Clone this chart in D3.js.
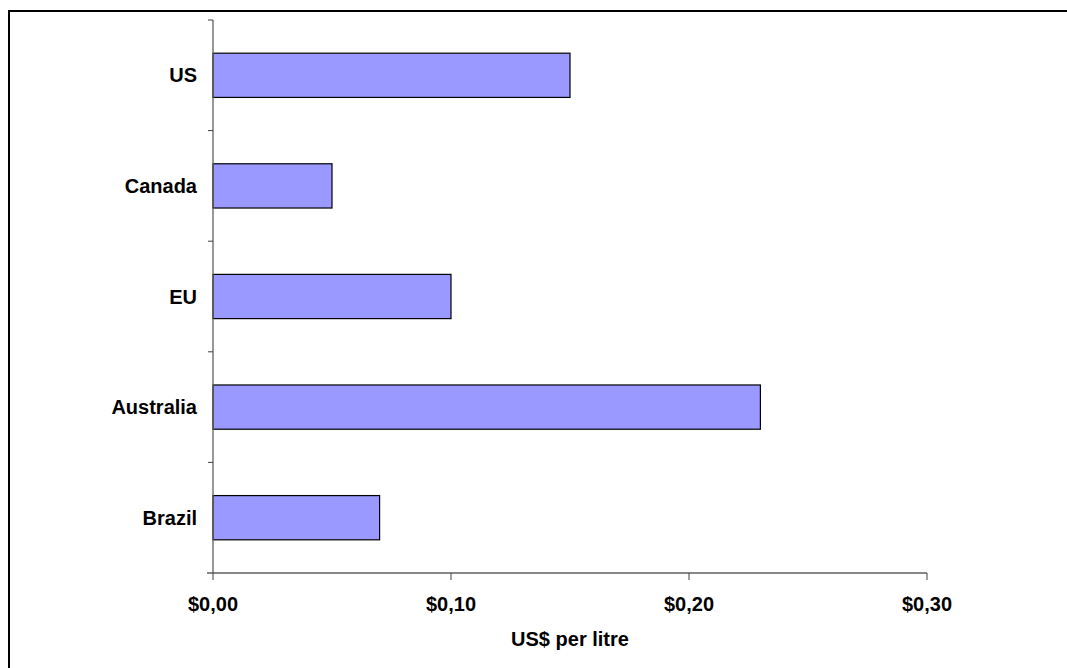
<!DOCTYPE html>
<html>
<head>
<meta charset="utf-8">
<script src="https://cdn.jsdelivr.net/npm/d3@7"></script>
<style>
html,body{margin:0;padding:0;background:#fff;}
svg{display:block;}
text{font-family:"Liberation Sans",Arial,sans-serif;font-weight:bold;fill:#000;}
</style>
</head>
<body>
<script>
const categories = ["US","Canada","EU","Australia","Brazil"];
const values = [0.15,0.05,0.10,0.23,0.07];
const xTicks = [0,0.1,0.2,0.3];
const xTickLabels = ["$0,00","$0,10","$0,20","$0,30"];
const xTitle = "US$ per litre";

const W=1067,H=668;
const svg=d3.select("body").append("svg").attr("width",W).attr("height",H);
svg.append("rect").attr("x",9).attr("y",11).attr("width",1070).attr("height",670)
  .attr("fill","none").attr("stroke","#000").attr("stroke-width",2);

const x=d3.scaleLinear().domain([0,0.3]).range([213,927]);
const y=d3.scaleBand().domain(categories).range([20,573]).paddingInner(0.6).paddingOuter(0.3);

// bars
svg.selectAll("rect.bar").data(categories).join("rect").attr("class","bar")
  .attr("x",x(0)).attr("y",d=>y(d))
  .attr("width",(d,i)=>x(values[i])-x(0)).attr("height",y.bandwidth())
  .attr("fill","#9999FF").attr("stroke","#000").attr("stroke-width",1.2);

// y axis
const step=y.step();
const y0=y.range()[0];
svg.append("line").attr("x1",x(0)).attr("x2",x(0)).attr("y1",y0).attr("y2",573)
  .attr("stroke","#606060").attr("stroke-width",1.3);
d3.range(categories.length).forEach(i=>{
  const yy=y0+i*step;
  svg.append("line").attr("x1",x(0)-5).attr("x2",x(0)).attr("y1",yy).attr("y2",yy)
    .attr("stroke","#404040").attr("stroke-width",1);
});
svg.selectAll("text.cat").data(categories).join("text").attr("class","cat")
  .attr("x",197).attr("y",d=>y(d)+y.bandwidth()/2)
  .attr("text-anchor","end").attr("dominant-baseline","central")
  .style("font-size","20px").text(d=>d);

// x axis
svg.append("line").attr("x1",x(0)-6).attr("x2",x(0.3)).attr("y1",573).attr("y2",573)
  .attr("stroke","#606060").attr("stroke-width",1.3);
xTicks.forEach((t,i)=>{
  svg.append("line").attr("x1",x(t)).attr("x2",x(t)).attr("y1",573).attr("y2",580)
    .attr("stroke","#404040").attr("stroke-width",1);
  svg.append("text").attr("x",x(t)).attr("y",611).attr("text-anchor","middle")
    .style("font-size","20px").text(xTickLabels[i]);
});
svg.append("text").attr("x",(x(0)+x(0.3))/2).attr("y",646).attr("text-anchor","middle")
  .style("font-size","20px").text(xTitle);
</script>
</body>
</html>
